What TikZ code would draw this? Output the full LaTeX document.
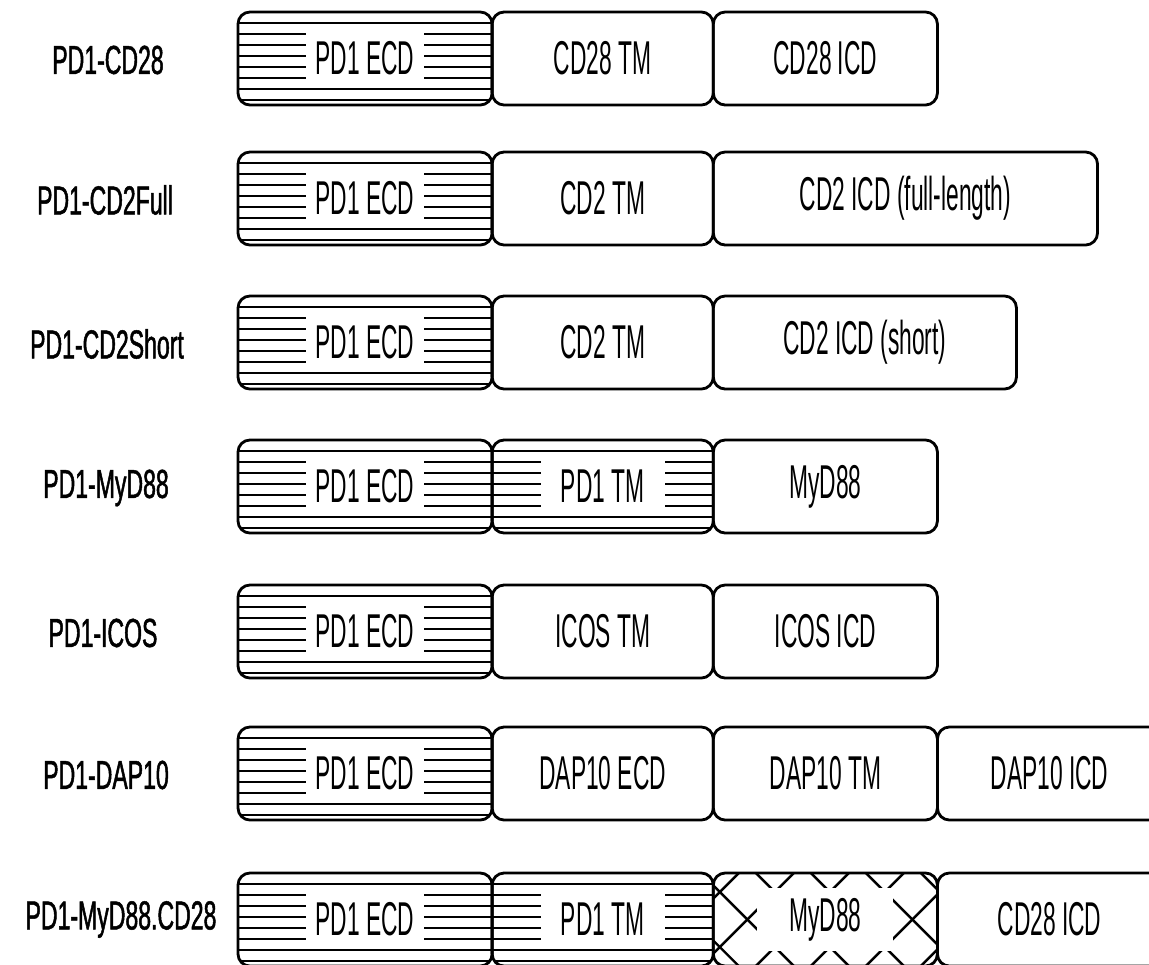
\documentclass[tikz,border=0pt]{standalone}
\usepackage{fontspec}
\newfontfamily\segfont{Liberation Sans}[FakeStretch=0.48]
\newfontfamily\rowfont{Liberation Sans}[FakeStretch=0.57,FakeBold=1.2]
\usetikzlibrary{positioning}

% white gap behind the text of a hatched segment
\newcommand{\gaptext}[2][0pt]{{\setlength{\fboxsep}{0.1cm}\colorbox{white}{\hspace{#1}#2\hspace{#1}}}}

\tikzset{
  segbox/.style={draw, line width=0.8pt, rounded corners=0.12cm, minimum height=0.93cm,
    outer sep=0pt, inner sep=0pt, font=\segfont\fontsize{13.5}{16}\selectfont},
  hatchline/.style={line width=0.45pt},
  ecdhatch/.style={path picture={
      \foreach \k in {1,...,8}
        \draw[hatchline] ([yshift={-\k*0.11cm}]path picture bounding box.north west)
          -- ([yshift={-\k*0.11cm}]path picture bounding box.north east);
    }},
  xhatch/.style={path picture={
      \foreach \k in {-2,...,5} {
        \draw[hatchline, line width=0.7pt] ([xshift={(0.34+\k*0.55)*1cm}]path picture bounding box.west)
          ++(-0.6cm,-0.6cm) -- ++(1.2cm,1.2cm);
        \draw[hatchline, line width=0.7pt] ([xshift={(0.34+\k*0.55)*1cm}]path picture bounding box.west)
          ++(-0.6cm,0.6cm) -- ++(1.2cm,-1.2cm);
      }
    }},
  rowname/.style={font=\rowfont\fontsize{11.5}{14}\selectfont},
}

\begin{document}
\begin{tikzpicture}[x=0.01cm, y=-0.01cm]
  \clip (0,0) rectangle (1149,965);

  % PD1-CD28
  \node[rowname] (nCD28) at (108,60) {PD1-CD28};
  \node[segbox, ecdhatch, minimum width=2.54cm, anchor=north west] (cd28ecd) at (238,12) {\gaptext{PD1 ECD}};
  \node[segbox, minimum width=2.21cm, right=0pt of cd28ecd] (cd28tm) {CD28 TM};
  \node[segbox, minimum width=2.24cm, right=0pt of cd28tm] (cd28icd) {CD28 ICD};

  % PD1-CD2Full
  \node[rowname] (nCD2F) at (105,200) {PD1-CD2Full};
  \node[segbox, ecdhatch, minimum width=2.54cm, anchor=north west] (cd2fecd) at (238,152) {\gaptext{PD1 ECD}};
  \node[segbox, minimum width=2.21cm, right=0pt of cd2fecd] (cd2ftm) {CD2 TM};
  \node[segbox, minimum width=3.84cm, right=0pt of cd2ftm] (cd2ficd) {CD2 ICD (full-length)};

  % PD1-CD2Short
  \node[rowname] (nCD2S) at (107,344) {PD1-CD2Short};
  \node[segbox, ecdhatch, minimum width=2.54cm, anchor=north west] (cd2secd) at (238,296) {\gaptext{PD1 ECD}};
  \node[segbox, minimum width=2.21cm, right=0pt of cd2secd] (cd2stm) {CD2 TM};
  \node[segbox, minimum width=3.03cm, right=0pt of cd2stm] (cd2sicd) {CD2 ICD (short)};

  % PD1-MyD88
  \node[rowname] (nMyD) at (106,488) {PD1-MyD88};
  \node[segbox, ecdhatch, minimum width=2.54cm, anchor=north west] (mydecd) at (238,440) {\gaptext{PD1 ECD}};
  \node[segbox, ecdhatch, minimum width=2.21cm, right=0pt of mydecd] (mydtm) {\gaptext[0.1cm]{PD1 TM}};
  \node[segbox, minimum width=2.24cm, right=0pt of mydtm] (mydicd) {MyD88};

  % PD1-ICOS
  \node[rowname] (nICOS) at (103,633) {PD1-ICOS};
  \node[segbox, ecdhatch, minimum width=2.54cm, anchor=north west] (icosecd) at (238,585) {\gaptext{PD1 ECD}};
  \node[segbox, minimum width=2.21cm, right=0pt of icosecd] (icostm) {ICOS TM};
  \node[segbox, minimum width=2.24cm, right=0pt of icostm] (icosicd) {ICOS ICD};

  % PD1-DAP10
  \node[rowname] (nDAP) at (106,775) {PD1-DAP10};
  \node[segbox, ecdhatch, minimum width=2.54cm, anchor=north west] (dapecd) at (238,727) {\gaptext{PD1 ECD}};
  \node[segbox, minimum width=2.21cm, right=0pt of dapecd] (dapext) {DAP10 ECD};
  \node[segbox, minimum width=2.24cm, right=0pt of dapext] (daptm) {DAP10 TM};
  \node[segbox, minimum width=2.24cm, right=0pt of daptm] (dapicd) {DAP10 ICD};

  % PD1-MyD88.CD28
  \node[rowname] (nMyC) at (121,919.5) {PD1-MyD88.CD28};
  \node[segbox, ecdhatch, minimum width=2.54cm, anchor=north west] (mycecd) at (238,873) {\gaptext{PD1 ECD}};
  \node[segbox, ecdhatch, minimum width=2.21cm, right=0pt of mycecd] (myctm) {\gaptext[0.1cm]{PD1 TM}};
  \node[segbox, xhatch, minimum width=2.24cm, right=0pt of myctm] (mycmyd) {\gaptext[0.22cm]{MyD88}};
  \node[segbox, minimum width=2.24cm, right=0pt of mycmyd] (mycicd) {CD28 ICD};
\end{tikzpicture}
\end{document}
